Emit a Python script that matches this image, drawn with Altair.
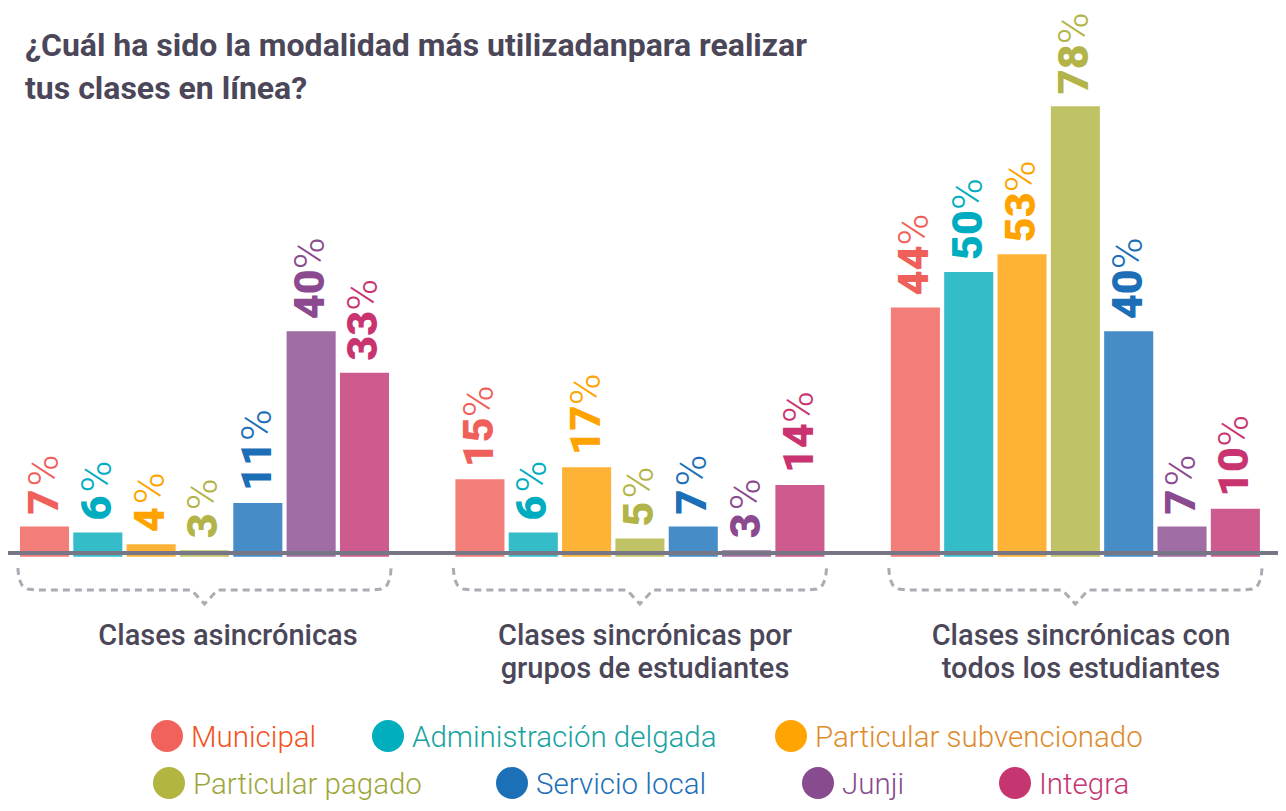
import altair as alt
import pandas as pd

# ---------------- data ----------------
title_lines = ["¿Cuál ha sido la modalidad más utilizadanpara realizar", "tus clases en línea?"]
groups = ["Clases asincrónicas",
          "Clases sincrónicas por grupos de estudiantes",
          "Clases sincrónicas con todos los estudiantes"]
group_lines = [["Clases asincrónicas"],
               ["Clases sincrónicas por", "grupos de estudiantes"],
               ["Clases sincrónicas con", "todos los estudiantes"]]
series = ["Municipal", "Administración delgada", "Particular subvencionado",
          "Particular pagado", "Servicio local", "Junji", "Integra"]

municipal = [7, 15, 44]
administracion = [6, 6, 50]
particular_subv = [4, 17, 53]
particular_pag = [3, 5, 78]
servicio_local = [11, 7, 40]
junji = [40, 3, 7]
integra = [33, 14, 10]
series_values = [municipal, administracion, particular_subv, particular_pag,
                 servicio_local, junji, integra]

bar_colors = ["#f27d79", "#34bcc8", "#ffb336", "#c0c365", "#468cc6", "#a06ca4", "#cd5b8d"]
label_colors = ["#f0605a", "#00adc0", "#ffa300", "#b3b447", "#1c6fb7", "#8b4a8f", "#c93470"]
dot_colors = ["#f2625c", "#00aebd", "#ffa400", "#b2b540", "#1c70b8", "#894b8f", "#c73570"]
legend_text_colors = ["#f4511e", "#16a3a0", "#de8b2c", "#9da63b", "#1e70b8", "#884b8e", "#c43672"]

# ---------------- layout ----------------
W, H = 1270, 795
STEP = 53.33          # px per bar slot
X0 = 36.5             # plot px of first bar centre
G = 8.165             # slots between group starts
YPX = 5.92            # px per percentage point
Y0 = 560.0            # plot px of value 0
BAR_FLOOR = 1.9
BASELINE = 2.53
HALF = 0.46
TXT = "#4b4759"

x_scale = alt.Scale(domain=[-X0 / STEP, (W - X0) / STEP], nice=False, zero=False)
y_scale = alt.Scale(domain=[(Y0 - H) / YPX, Y0 / YPX], nice=False, zero=False)

rows = []
for gi, g in enumerate(groups):
    for si, s in enumerate(series):
        v = series_values[si][gi]
        pos = gi * G + si
        rows.append(dict(grupo=g, serie=s, value=v, pos=pos, x1=pos - HALF, x2=pos + HALF,
                         label=str(v), digits=len(str(v)),
                         bar_color=bar_colors[si], label_color=label_colors[si]))
df = pd.DataFrame(rows)

X = lambda f: alt.X(f, scale=x_scale, axis=None)
Y = lambda f: alt.Y(f, scale=y_scale, axis=None)

bars = alt.Chart(df).mark_bar().encode(
    x=X("x1:Q"), x2="x2:Q", y=Y("value:Q"), y2=alt.datum(BAR_FLOOR),
    color=alt.Color("bar_color:N", scale=None))

num_labels = alt.Chart(df).mark_text(
    angle=270, align="left", baseline="middle", dx=12,
    font="Roboto", fontSize=43, fontWeight=900).encode(
    x=X("pos:Q"), y=Y("value:Q"), text="label:N",
    color=alt.Color("label_color:N", scale=None))

pct_layers = []
for n, off in [(1, 40), (2, 62)]:
    pct_layers.append(alt.Chart(df).transform_filter(alt.datum.digits == n).mark_text(
        angle=270, align="left", baseline="middle", dx=off,
        font="Roboto", fontSize=43, fontWeight=300).encode(
        x=X("pos:Q"), y=Y("value:Q"), text=alt.value("%"),
        color=alt.Color("label_color:N", scale=None)))

base_rule = alt.Chart(pd.DataFrame({"v": [BASELINE]})).mark_rule(
    color="#767687", strokeWidth=4).encode(
    y=Y("v:Q"), x=alt.value(0), x2=alt.value(W))

# braces (decoration, built relative to each group's extent)
brace_shape = [(0, 568), (1, 578), (4, 585), (10, 589), (18, 590), ("c-13", 590), ("c", 604),
               ("c+13", 590), ("r-18", 590), ("r-10", 589), ("r-4", 585), ("r-1", 578), ("r", 568)]
brows = []
for gi in range(len(groups)):
    left = gi * G - HALF - 0.04
    right = gi * G + len(series) - 1 + HALF + 0.04
    centre = gi * G + (len(series) - 1) / 2
    for k, (px, py) in enumerate(brace_shape):
        if isinstance(px, str):
            base = centre if px.startswith("c") else right
            off = float(px[1:]) if len(px) > 1 else 0.0
            bx = base + off / STEP
        else:
            bx = left + px / STEP
        brows.append(dict(g=gi, k=k, bx=bx, by=(568 - py) / YPX))
braces = alt.Chart(pd.DataFrame(brows)).mark_line(
    strokeDash=[7, 5], strokeWidth=3, color="#ababb3").encode(
    x=X("bx:Q"), y=Y("by:Q"), detail="g:N", order="k:Q")

one = pd.DataFrame({"a": [0]})
title = alt.Chart(one).mark_text(
    align="left", baseline="top", font="Roboto", fontSize=32, fontWeight="bold",
    color=TXT, lineHeight=43).encode(
    x=alt.value(17), y=alt.value(48 - 0.79 * 32), text=alt.value(title_lines))

group_x = [220, 637, 1073]
glabels = []
for gi, lines in enumerate(group_lines):
    glabels.append(alt.Chart(one).mark_text(
        align="center", baseline="top", font="Roboto", fontSize=29, fontWeight=500,
        color=TXT, lineHeight=33).encode(
        x=alt.value(group_x[gi]), y=alt.value(637 - 0.79 * 29), text=alt.value(lines)))

legend_pos = [(159, 728), (380, 728), (783, 728), (161, 775), (504, 775), (810, 775), (1007, 775)]
legend_layers = []
for i, s in enumerate(series):
    cx, cy = legend_pos[i]
    legend_layers.append(alt.Chart(one).mark_point(
        shape="circle", filled=True, size=1024, opacity=1, color=dot_colors[i]).encode(
        x=alt.value(cx), y=alt.value(cy)))
    legend_layers.append(alt.Chart(one).mark_text(
        align="left", baseline="middle", font="Roboto", fontSize=29.5, fontWeight=300,
        color=legend_text_colors[i]).encode(
        x=alt.value(cx + 24), y=alt.value(cy + 2), text=alt.value(s)))

chart = alt.layer(bars, base_rule, braces, num_labels, *pct_layers, title, *glabels,
                  *legend_layers).properties(
    width=W, height=H, padding=0,
    autosize=alt.AutoSizeParams(type="none")).configure_view(stroke=None)

chart.save("out.html", embed_options={"renderer": "svg", "actions": False})
